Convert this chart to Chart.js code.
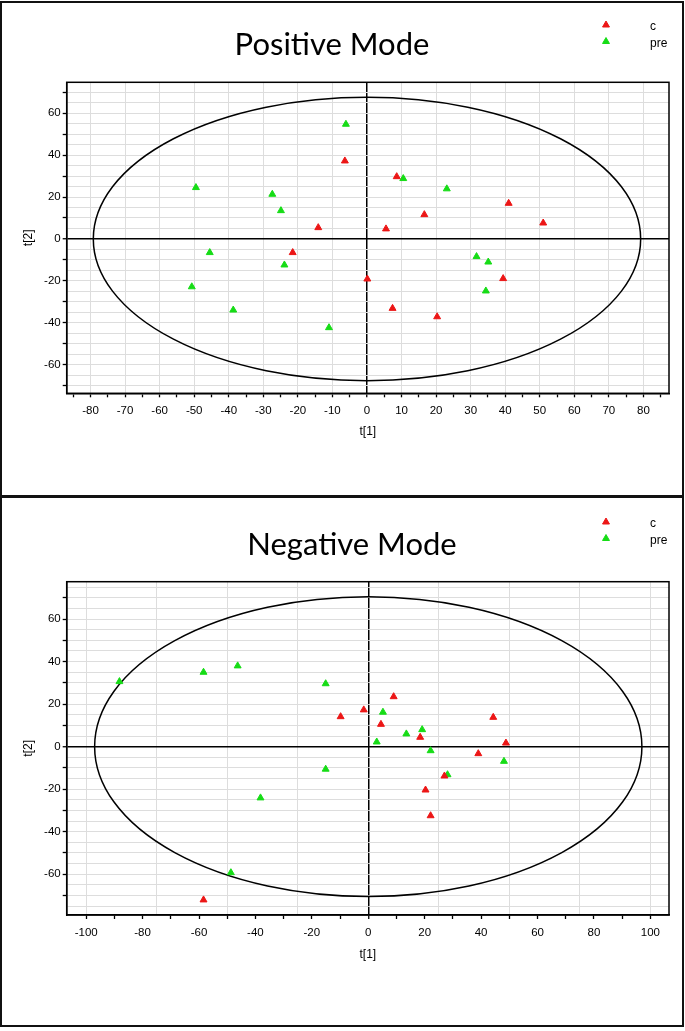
<!DOCTYPE html>
<html>
<head>
<meta charset="utf-8">
<title>PCA score plots</title>
<script src="https://cdn.jsdelivr.net/npm/chart.js@4.4.1/dist/chart.umd.min.js"></script>
<style>
  body { margin: 0; background: #fff; width: 685px; height: 1031px; position: relative; overflow: hidden; }
  .panel { position: absolute; left: 0; width: 684px; border: 2px solid #111; box-sizing: border-box; }
  #p1 { top: 1px; height: 497px; }
  #p2 { top: 495px; height: 532px; }
  canvas { position: absolute; left: 0; }
  #posChart { top: 0; }
  #negChart { top: 496px; }
</style>
</head>
<body>
<div class="panel" id="p1"></div>
<div class="panel" id="p2"></div>
<canvas id="posChart" width="685" height="496"></canvas>
<canvas id="negChart" width="685" height="531"></canvas>
<script>
// groups
const GROUPS = ['c', 'pre'];
const GROUP_COLORS = ['#ec1616', '#16dc16'];

// tick labels
const POS_X_LABELS = [-80, -70, -60, -50, -40, -30, -20, -10, 0, 10, 20, 30, 40, 50, 60, 70, 80];
const POS_Y_LABELS = [-60, -40, -20, 0, 20, 40, 60];
const NEG_X_LABELS = [-100, -80, -60, -40, -20, 0, 20, 40, 60, 80, 100];
const NEG_Y_LABELS = [-60, -40, -20, 0, 20, 40, 60];

// Positive mode scores, t[1] / t[2]
const POS_C_T1 = [-6.4, -14.1, -21.5, 0.1, 8.6, 16.6, 5.5, 41.0, 51.0, 39.4, 7.4, 20.3];
const POS_C_T2 = [37.2, 5.4, -6.5, -19.1, 29.7, 11.6, 4.8, 17.0, 7.6, -18.9, -33.1, -37.1];
const POS_PRE_T1 = [-6.1, -49.5, -27.4, -24.9, -45.5, -23.9, -50.7, -38.7, -11.0, 10.5, 23.1, 31.7, 35.1, 34.4];
const POS_PRE_T2 = [54.7, 24.5, 21.3, 13.5, -6.5, -12.4, -22.8, -33.9, -42.3, 28.8, 23.9, -8.4, -11.0, -24.8];

// Negative mode scores, t[1] / t[2]
const NEG_C_T1 = [-9.8, -1.6, -58.4, 9.0, 4.5, 18.4, 44.3, 48.8, 39.0, 27.0, 20.3, 22.1];
const NEG_C_T2 = [14.1, 17.3, -72.1, 23.5, 10.5, 4.4, 13.8, 1.7, -3.3, -13.8, -20.4, -32.5];
const NEG_PRE_T1 = [-88.2, -58.4, -46.3, -15.1, 3.0, -15.1, -38.2, -48.7, 5.2, 13.5, 19.1, 22.1, 28.1, 48.1];
const NEG_PRE_T2 = [30.6, 35.0, 38.0, 29.6, 2.2, -10.6, -24.1, -59.3, 16.2, 6.0, 8.0, -1.9, -13.2, -6.9];

// Hotelling T2 ellipse semi-axes (t[1], t[2])
const POS_ELLIPSE = [79.2, 67.6];
const NEG_ELLIPSE = [97.0, 70.5];

const TICK_FONT = "'Liberation Sans', Arial, sans-serif";
const TITLE_FONT = "Lato, 'Open Sans', sans-serif";

const pts = (xs, ys) => xs.map((x, i) => ({ x, y: ys[i] }));
const mult = (v, n) => Math.abs(Math.round(v) % n) === 0;

const panelDecor = {
  id: 'panelDecor',
  beforeDatasetsDraw(chart, args, o) {
    const { ctx, chartArea: a, scales: { x, y } } = chart;
    const cx = x.getPixelForValue(0), cy = y.getPixelForValue(0);
    ctx.save();
    ctx.strokeStyle = '#000';
    ctx.lineWidth = 1.5;
    ctx.beginPath();
    ctx.ellipse(cx, cy, x.getPixelForValue(o.ellipse[0]) - cx, cy - y.getPixelForValue(o.ellipse[1]), 0, 0, Math.PI * 2);
    ctx.stroke();
    ctx.strokeRect(a.left, a.top, a.width, a.height);
    ctx.restore();
  },
  afterDraw(chart, args, o) {
    const { ctx } = chart;
    ctx.save();
    ctx.fillStyle = '#000';
    ctx.font = '31px ' + TITLE_FONT;
    ctx.textAlign = 'center';
    ctx.textBaseline = 'alphabetic';
    ctx.fillText(o.title, o.titleX, o.titleY);
    ctx.textAlign = 'left';
    ctx.font = '12px ' + TICK_FONT;
    chart.data.datasets.forEach((ds, i) => {
      const ly = o.legendY + i * 16.5;
      ctx.fillStyle = ds.backgroundColor;
      ctx.strokeStyle = ds.borderColor;
      Chart.helpers.drawPoint(ctx, { pointStyle: 'triangle', radius: 4, rotation: 0, borderWidth: 1 }, 606, ly);
      ctx.fillStyle = '#000';
      ctx.fillText(ds.label, 650, ly + 5);
    });
    ctx.restore();
  }
};

function linearAxis(o) {
  return {
    type: 'linear',
    position: o.position,
    min: o.min,
    max: o.max,
    afterFit: s => { if (o.position === 'bottom') s.height = o.size; else s.width = o.size; },
    ticks: {
      stepSize: 5, includeBounds: false, autoSkip: false, maxRotation: 0, minRotation: 0,
      padding: o.position === 'bottom' ? 7 : 2,
      color: '#000',
      font: { family: TICK_FONT, size: 11.5 },
      callback: v => o.labels.includes(v) ? String(v) : ''
    },
    grid: {
      color: c => c.tick && c.tick.value === 0 ? '#000' : (c.tick && mult(c.tick.value, o.gridEvery) ? '#dddddd' : 'rgba(0,0,0,0)'),
      lineWidth: c => c.tick && c.tick.value === 0 ? 1.5 : 1,
      tickColor: c => c.tick && mult(c.tick.value, o.tickEvery) ? '#000' : 'rgba(0,0,0,0)',
      tickLength: 4,
      tickWidth: 1.3
    },
    border: { display: true, color: '#000', width: 1.5 },
    title: { display: true, text: o.title, color: '#000', font: { family: TICK_FONT, size: 12 }, padding: { top: 4, bottom: 4 } }
  };
}

function makeChart(id, c) {
  return new Chart(document.getElementById(id), {
    type: 'scatter',
    data: {
      datasets: [
        { label: GROUPS[0], data: c.cData, backgroundColor: GROUP_COLORS[0], borderColor: GROUP_COLORS[0] },
        { label: GROUPS[1], data: c.preData, backgroundColor: GROUP_COLORS[1], borderColor: GROUP_COLORS[1] }
      ]
    },
    options: {
      responsive: false,
      animation: false,
      devicePixelRatio: 1,
      layout: { padding: c.padding },
      elements: { point: { pointStyle: 'triangle', radius: 4, borderWidth: 1, hoverRadius: 4 } },
      scales: { x: c.x, y: c.y },
      plugins: {
        legend: { display: false },
        tooltip: { enabled: false },
        panelDecor: c.decor
      }
    },
    plugins: [panelDecor]
  });
}

makeChart('posChart', {
  cData: pts(POS_C_T1, POS_C_T2),
  preData: pts(POS_PRE_T1, POS_PRE_T2),
  padding: { left: 17, right: 16, top: 82.3, bottom: 53.3 },
  x: linearAxis({ position: 'bottom', min: -86.9, max: 87.4, labels: POS_X_LABELS, gridEvery: 10, tickEvery: 5, title: 't[1]', size: 49.4 }),
  y: linearAxis({ position: 'left', min: -73.6, max: 74.7, labels: POS_Y_LABELS, gridEvery: 5, tickEvery: 10, title: 't[2]', size: 49.7 }),
  decor: { title: 'Positive Mode', titleX: 332, titleY: 55, legendY: 25, ellipse: POS_ELLIPSE }
});

makeChart('negChart', {
  cData: pts(NEG_C_T1, NEG_C_T2),
  preData: pts(NEG_PRE_T1, NEG_PRE_T2),
  padding: { left: 17, right: 16, top: 85.7, bottom: 60.8 },
  x: linearAxis({ position: 'bottom', min: -106.9, max: 106.6, labels: NEG_X_LABELS, gridEvery: 25, tickEvery: 10, title: 't[1]', size: 51.2 }),
  y: linearAxis({ position: 'left', min: -79.2, max: 77.6, labels: NEG_Y_LABELS, gridEvery: 5, tickEvery: 10, title: 't[2]', size: 49.7 }),
  decor: { title: 'Negative Mode', titleX: 352, titleY: 59, legendY: 26, ellipse: NEG_ELLIPSE }
});
</script>
</body>
</html>
